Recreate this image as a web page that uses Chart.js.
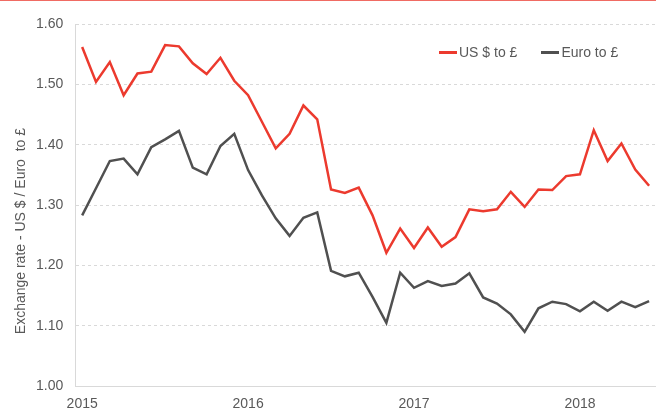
<!DOCTYPE html>
<html>
<head>
<meta charset="utf-8">
<script src="https://cdn.jsdelivr.net/npm/chart.js@4.4.1/dist/chart.umd.min.js"></script>
<style>
  html, body { margin: 0; padding: 0; background: #fff; }
  #wrap { position: relative; width: 656px; height: 412px; border-top: 1px solid #f06b63; box-sizing: border-box; }
  #rates { display: block; }
  #legend { position: absolute; left: 439px; top: 43px; font: 14px "Liberation Sans", Arial, sans-serif; color: #595959; white-space: nowrap; }
  #legend span.item { display: inline-block; margin-right: 24px; }
  #legend i { display: inline-block; width: 18px; height: 3px; vertical-align: middle; margin-right: 2px; position: relative; top: -1px; }
</style>
</head>
<body>
<div id="wrap"><canvas id="rates" width="656" height="411"></canvas><div id="legend"></div></div>
<script>
// Monthly rates, Jan 2015 - Jun 2018
const months = [
  '2015-01','2015-02','2015-03','2015-04','2015-05','2015-06','2015-07','2015-08','2015-09','2015-10','2015-11','2015-12',
  '2016-01','2016-02','2016-03','2016-04','2016-05','2016-06','2016-07','2016-08','2016-09','2016-10','2016-11','2016-12',
  '2017-01','2017-02','2017-03','2017-04','2017-05','2017-06','2017-07','2017-08','2017-09','2017-10','2017-11','2017-12',
  '2018-01','2018-02','2018-03','2018-04','2018-05','2018-06'
];
const usdRate = [
  1.562, 1.504, 1.537, 1.482, 1.518, 1.521, 1.565, 1.563, 1.535, 1.517, 1.544, 1.506,
  1.482, 1.438, 1.394, 1.418, 1.465, 1.442, 1.326, 1.320, 1.329, 1.283, 1.221, 1.261,
  1.229, 1.263, 1.231, 1.247, 1.293, 1.290, 1.293, 1.322, 1.297, 1.326, 1.325, 1.348,
  1.351, 1.424, 1.373, 1.402, 1.359, 1.332
];
const euroRate = [
  1.283, 1.328, 1.373, 1.377, 1.351, 1.396, 1.409, 1.423, 1.362, 1.351, 1.398, 1.418,
  1.358, 1.316, 1.278, 1.249, 1.279, 1.288, 1.191, 1.182, 1.188, 1.148, 1.105, 1.188,
  1.163, 1.174, 1.166, 1.170, 1.187, 1.147, 1.137, 1.119, 1.090, 1.129, 1.140, 1.136,
  1.124, 1.140, 1.125, 1.140, 1.131, 1.141
];
const yTicks = [1.00, 1.10, 1.20, 1.30, 1.40, 1.50, 1.60];
const yTitle = 'Exchange rate - US $ / Euro  to £';

const textColor = '#595959';
const gridColor = '#d9d9d9';
Chart.defaults.font.family = '"Liberation Sans", Arial, sans-serif';
Chart.defaults.color = textColor;

// y title sits a bit below the middle of the axis, like the original
const yTitlePlugin = {
  id: 'yTitle',
  afterDraw(chart) {
    const ctx = chart.ctx;
    const area = chart.chartArea;
    ctx.save();
    ctx.translate(21, (area.top + area.bottom) / 2 + 26);
    ctx.rotate(-Math.PI / 2);
    ctx.font = '14px "Liberation Sans", Arial, sans-serif';
    ctx.fillStyle = textColor;
    ctx.textAlign = 'center';
    ctx.textBaseline = 'middle';
    ctx.fillText(yTitle, 0, 0);
    ctx.restore();
  }
};

const chart = new Chart(document.getElementById('rates').getContext('2d'), {
  type: 'line',
  data: {
    labels: months,
    datasets: [
      { label: 'US $ to £', data: usdRate, borderColor: '#ec3a2e', backgroundColor: '#ec3a2e',
        borderWidth: 2.5, pointRadius: 0, tension: 0 },
      { label: 'Euro to £', data: euroRate, borderColor: '#505050', backgroundColor: '#505050',
        borderWidth: 2.5, pointRadius: 0, tension: 0 }
    ]
  },
  options: {
    responsive: false,
    animation: false,
    layout: { padding: { left: 24, top: 23, right: 0, bottom: -11 } },
    plugins: {
      tooltip: { enabled: false },
      legend: { display: false }
    },
    scales: {
      x: {
        offset: true,
        grid: { display: false, drawTicks: false },
        border: { display: true, color: gridColor, width: 1 },
        afterFit(scale) { scale.paddingRight = 0; },
        ticks: {
          autoSkip: false, maxRotation: 0, padding: 10, font: { size: 14 },
          callback(v, i) { const m = months[i]; return m.endsWith('-01') ? m.slice(0, 4) : ''; }
        }
      },
      y: {
        min: 1.0, max: 1.6,
        afterBuildTicks(axis) { axis.ticks = yTicks.map(v => ({ value: v })); },
        grid: { color: gridColor, lineWidth: 1, drawTicks: false },
        border: { display: true, color: gridColor, width: 1, dash: [3, 3] },
        ticks: { padding: 12, font: { size: 14 }, callback: v => v.toFixed(2) }
      }
    }
  },
  plugins: [yTitlePlugin]
});

// legend drawn as html, from the chart's datasets
document.getElementById('legend').innerHTML = chart.data.datasets
  .map(ds => `<span class="item"><i style="background:${ds.borderColor}"></i>${ds.label}</span>`)
  .join('');
</script>
</body>
</html>
